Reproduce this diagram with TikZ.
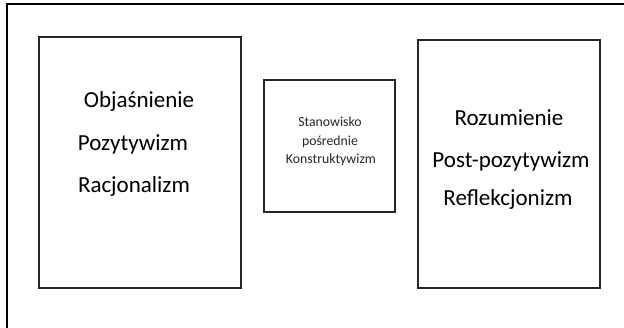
\documentclass[tikz,border=0pt]{standalone}
\usepackage{fontspec}
\setmainfont{Carlito}
\begin{document}
\begin{tikzpicture}[x=1pt,y=-1pt,
  boxstyle/.style={draw=black!85,line width=1.3pt,inner sep=0pt},
  bigtext/.style={font=\fontsize{23}{27}\selectfont,inner sep=0pt,anchor=center},
  smalltext/.style={font=\fontsize{13.8}{16}\selectfont,text=black!85,inner sep=0pt,anchor=center}]
\clip (0,0) rectangle (624,328);
\draw[line width=1.5pt] (7,340) -- (7,4) -- (640,4);
\node[boxstyle,minimum width=202pt,minimum height=251pt] (left) at (140,162.5) {};
\node[boxstyle,minimum width=131pt,minimum height=132pt] (mid) at (329.5,146) {};
\node[boxstyle,minimum width=182pt,minimum height=248pt] (right) at (509,164) {};
\node[bigtext] (l1) at (139,102) {\strut Objaśnienie};
\node[bigtext] (l2) at (133,145) {\strut Pozytywizm};
\node[bigtext] (l3) at (134,187) {\strut Racjonalizm};
\node[smalltext] (m1) at (330,123) {\strut Stanowisko};
\node[smalltext] (m2) at (330,142) {\strut pośrednie};
\node[smalltext] (m3) at (331,160) {\strut Konstruktywizm};
\node[bigtext] (r1) at (509,120) {\strut Rozumienie};
\node[bigtext] (r2) at (511,162) {\strut Post-pozytywizm};
\node[bigtext] (r3) at (508,200) {\strut Reflekcjonizm};
\end{tikzpicture}
\end{document}
